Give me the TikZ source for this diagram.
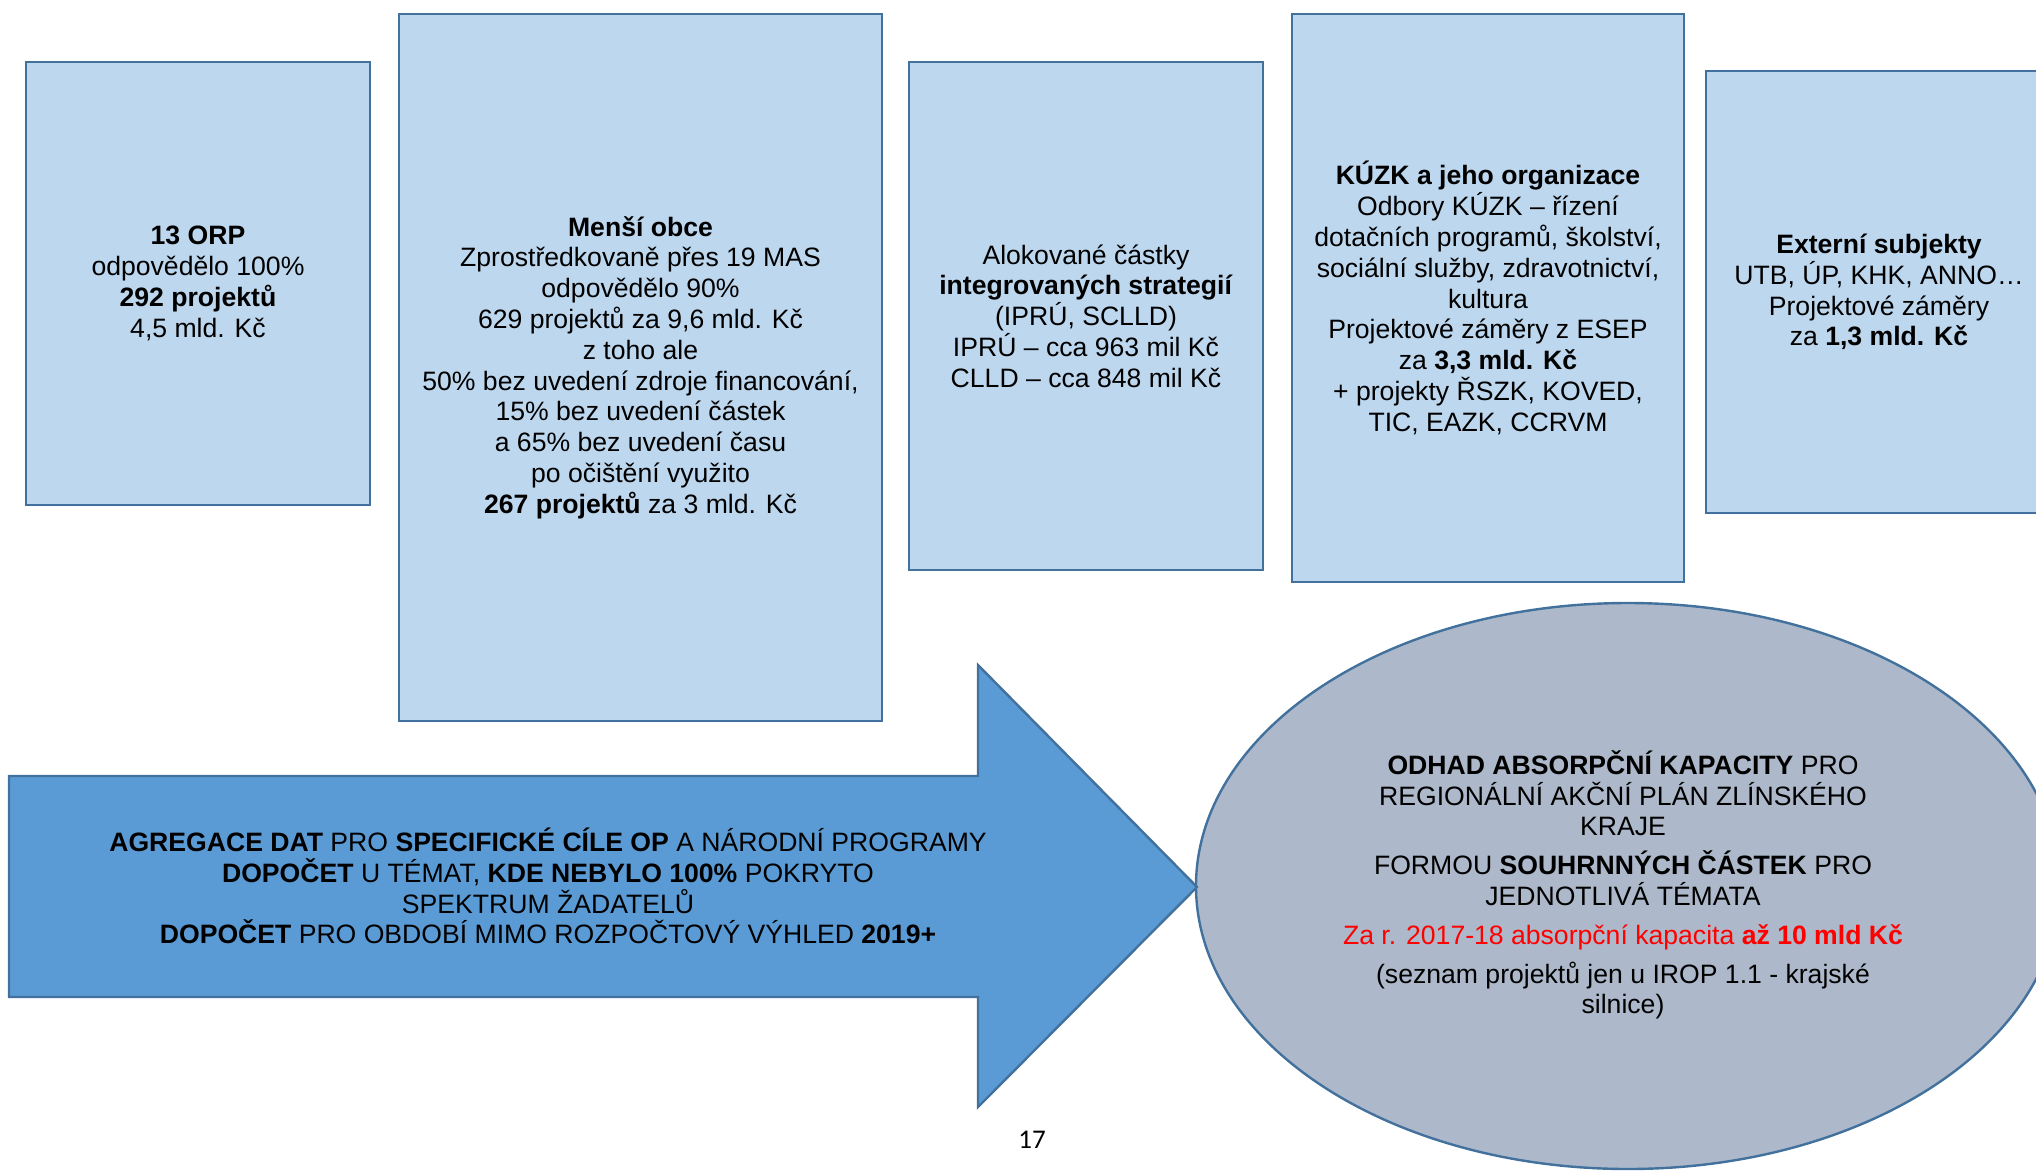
\documentclass[tikz,border=0pt]{standalone}
\usepackage{fontspec}
\setmainfont{Liberation Sans}
\newfontfamily\pagenumfont{Carlito}
\usetikzlibrary{shapes.geometric}
\definecolor{boxfill}{HTML}{BDD7EE}
\definecolor{boxline}{HTML}{41719C}
\definecolor{arrowfill}{HTML}{5B9BD5}
\definecolor{ellfill}{HTML}{ADB9CA}
\definecolor{redtext}{HTML}{FF0000}
\tikzset{
  infobox/.style={draw=boxline, fill=boxfill, line width=1.2pt, rectangle, align=center,
    font=\fontsize{13.3}{15.4}\selectfont, inner sep=0pt},
  txt/.style={align=center, font=\fontsize{13.3}{15.4}\selectfont, inner sep=0pt},
  bigarrow/.style={draw=boxline, fill=arrowfill, line width=1.2pt, line join=miter},
  ellshape/.style={draw=boxline, fill=ellfill, line width=1.2pt, ellipse, inner sep=0pt},
}
\begin{document}
\begin{tikzpicture}[x=0.5pt,y=-0.5pt]
\useasboundingbox (0,0) rectangle (2036,1173);
\clip (0,0) rectangle (2036,1173);
\fill[white] (0,0) rectangle (2036,1173);

% top boxes
\node[infobox, minimum width=172pt, minimum height=221.5pt] (orp) at (198,283.5)
  {\textbf{13 ORP}\\odpovědělo 100\%\\\textbf{292 projektů}\\4,5 mld. Kč};
\node[infobox, minimum width=241.5pt, minimum height=353.5pt] (obce) at (640.5,367.5)
  {\textbf{Menší obce}\\Zprostředkovaně přes 19 MAS\\odpovědělo 90\%\\629 projektů za 9,6 mld. Kč\\z toho ale\\50\% bez uvedení zdroje financování,\\15\% bez uvedení částek\\a 65\% bez uvedení času\\po očištění využito\\\textbf{267 projektů} za 3 mld. Kč};
\node[infobox, minimum width=177pt, minimum height=254pt] (strat) at (1086,316)
  {Alokované částky\\\textbf{integrovaných strategií}\\(IPRÚ, SCLLD)\\IPRÚ – cca 963 mil Kč\\CLLD – cca 848 mil Kč};
\node[infobox, minimum width=196pt, minimum height=284pt] (kuzk) at (1488,298)
  {\textbf{KÚZK a jeho organizace}\\Odbory KÚZK – řízení\\dotačních programů, školství,\\sociální služby, zdravotnictví,\\kultura\\Projektové záměry z ESEP\\za \textbf{3,3 mld. Kč}\\+ projekty ŘSZK, KOVED,\\TIC, EAZK, CCRVM};
\node[infobox, minimum width=173pt, minimum height=221pt] (ext) at (1879,292)
  {\textbf{Externí subjekty}\\UTB, ÚP, KHK, ANNO…\\Projektové záměry\\za \textbf{1,3 mld. Kč}};

% ellipse
\node[ellshape, minimum width=432pt, minimum height=283pt] (odhad) at (1628,886) {};
\node[txt] (odhadtxt) at (1623,885)
  {\textbf{ODHAD ABSORPČNÍ KAPACITY} PRO\\REGIONÁLNÍ AKČNÍ PLÁN ZLÍNSKÉHO\\KRAJE\\[4pt]
   FORMOU \textbf{SOUHRNNÝCH ČÁSTEK} PRO\\JEDNOTLIVÁ TÉMATA\\[4pt]
   \textcolor{redtext}{Za r. 2017-18 absorpční kapacita \textbf{až 10 mld Kč}}\\[4pt]
   (seznam projektů jen u IROP 1.1 - krajské\\silnice)};

% big arrow
\coordinate (tip) at (1197,887);
\draw[bigarrow] (9,776) -- (978,776) -- (978,665) -- (tip) -- (978,1107) -- (978,997) -- (9,997) -- cycle;
\node[txt] (agreg) at (548,886)
  {\textbf{AGREGACE DAT} PRO \textbf{SPECIFICKÉ CÍLE OP} A NÁRODNÍ PROGRAMY\\
   \textbf{DOPOČET} U TÉMAT, \textbf{KDE NEBYLO 100\%} POKRYTO\\
   SPEKTRUM ŽADATELŮ\\
   \textbf{DOPOČET} PRO OBDOBÍ MIMO ROZPOČTOVÝ VÝHLED \textbf{2019+}};

% page number
\node[inner sep=0pt, font=\pagenumfont\fontsize{13.5}{15}\selectfont] (pagenum) at (1032,1140) {17};
\end{tikzpicture}
\end{document}
